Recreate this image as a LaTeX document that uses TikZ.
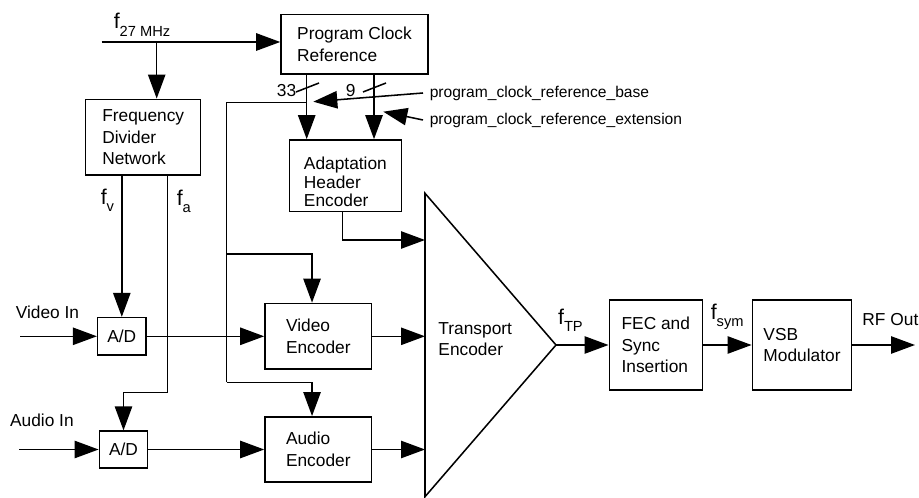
\documentclass[tikz,border=0pt]{standalone}
\usepackage{fontspec}
\setmainfont{Liberation Sans}
\usetikzlibrary{arrows.meta}
\newcommand\mainfnt{\fontsize{13}{16.3}\selectfont}
\newcommand\adfnt{\fontsize{13}{13.6}\selectfont}
\newcommand\smallfnt{\fontsize{11.7}{14}\selectfont}
\newcommand\flabfnt{\fontsize{16}{18}\selectfont}
\newcommand\subfnt{\fontsize{11}{13}\selectfont}
\begin{document}
\begin{tikzpicture}[x=0.75pt,y=-0.75pt,line width=1.15pt,
  box/.style={draw,line width=1.15pt,inner sep=0pt,align=left,font=\mainfnt},
  arr/.style={-{Triangle[length=18pt,width=13pt]}},
  txt/.style={inner sep=0pt,font=\mainfnt,align=left},
  stxt/.style={inner ysep=0pt,inner xsep=4.5pt,font=\smallfnt},
  flab/.style={inner sep=0pt,font=\flabfnt}]
\useasboundingbox (0,0) rectangle (919,498);

% boxes
\node[box,minimum width=110.25pt,minimum height=44.5pt] (PCR) at (354.5,44.3) {Program Clock\\Reference};
\node[box,minimum width=86.25pt,minimum height=56.8pt] (FDN) at (143.2,137.2) {Frequency\\Divider\\Network};
\node[box,minimum width=84.2pt,minimum height=53.8pt] (AHE) at (345.4,175.8) {};
\node[txt,font=\adfnt] (AHEt) at ([yshift=-4.6pt]AHE.center) {Adaptation\\Header\\Encoder};
\node[box,minimum width=80pt,minimum height=49.3pt] (VE) at (318.3,336.3) {Video\\Encoder};
\node[box,minimum width=80pt,minimum height=49pt] (AE) at (318.3,449.5) {Audio\\Encoder};
\node[box,minimum width=36.2pt,minimum height=28pt] (AD1) at (121.8,336.3) {A/D};
\node[box,minimum width=36.2pt,minimum height=27.5pt] (AD2) at (123.5,449.5) {A/D};
\node[box,minimum width=69.75pt,minimum height=67.5pt] (FEC) at (655.8,345) {FEC and\\Sync\\Insertion};
\node[box,minimum width=74.5pt,minimum height=67.5pt] (VSB) at (802,345) {VSB\\Modulator};

% transport encoder triangle
\coordinate (TEtop) at (425,193.3);
\coordinate (TEbot) at (425,496.7);
\coordinate (TEapex) at (556,345);
\draw[line join=miter] (TEtop) -- (TEapex) -- (TEbot) -- cycle;
\node[txt,anchor=west] (TEt) at (437.7,339) {Transport\\Encoder};

% clock input
\coordinate (f27s) at (101.7,42);
\coordinate (f27b) at (156.7,42);
\draw[arr] (f27s) -- (f27s -| PCR.west);
\draw[arr] (f27b) -- (f27b |- FDN.north);
\node[flab,anchor=base west] (f27l) at (113,28.3) {f\raisebox{-5.8pt}{\subfnt 27 MHz}};

% PCR outputs
\coordinate (b33) at ([xshift=-35.85pt]PCR.south);
\coordinate (b9) at ([xshift=14.625pt]PCR.south);
\draw[arr] (b33) -- (b33 |- AHE.north);
\draw[arr] (b9) -- (b9 |- AHE.north);
\draw (296,92) -- (319,83);
\draw (363,92) -- (386,83);
\node[txt,anchor=east] (n33) at (297,90.7) {33};
\node[txt,anchor=west] (n9) at (345,90.7) {9};

% PCR distribution line
\coordinate (j) at (306.7,102.7);
\coordinate (ltop) at (226.7,102.7);
\coordinate (lmid) at (226.7,254);
\coordinate (lbot) at (226.7,382.3);
\draw (j) -- (ltop) -- (lbot);
\draw[arr] (lmid) -| ([xshift=-4.7pt]VE.north);
\draw[arr] (lbot) -| ([xshift=-4.7pt]AE.north);

% field name pointers
\node[stxt,anchor=west] (pcrb) at (423,93) {program\_clock\_reference\_base};
\node[stxt,anchor=west] (pcre) at (423,120) {program\_clock\_reference\_extension};
\coordinate (pb) at (313.3,101.7);
\coordinate (pe) at (383.3,111.7);
\draw[arr] (pcrb.west) -- (pb);
\draw[arr] (pcre.west) -- (pe);

% divider outputs
\draw[arr] (AD1.north |- FDN.south) -- (AD1.north);
\coordinate (fab) at (167.7,392.3);
\draw[arr] (FDN.south -| fab) -- (fab) -| (AD2.north);
\node[flab,anchor=base west] (fvl) at (100,205) {f\raisebox{-5pt}{\subfnt v}};
\node[flab,anchor=base west] (fal) at (176,206) {f\raisebox{-5pt}{\subfnt a}};

% inputs
\coordinate (vin) at (20,336.3);
\coordinate (ain) at (19.3,449.5);
\draw[arr] (vin) -- (AD1.west);
\draw[arr] (ain) -- (AD2.west);
\node[txt,anchor=west] (vinl) at (15,312.3) {Video In};
\node[txt,anchor=west] (ainl) at (9.3,420) {Audio In};

% into encoders and transport
\draw[arr] (AD1.east) -- (VE.west);
\draw[arr] (AD2.east) -- (AE.west);
\draw[arr] (VE.east) -- (VE.east -| TEtop);
\draw[arr] (AE.east) -- (AE.east -| TEtop);
\coordinate (ahy) at (0,240);
\draw[arr] ([xshift=-2.3pt]AHE.south) |- (TEtop |- ahy);

% output chain
\draw[arr] (TEapex) -- (FEC.west);
\draw[arr] (FEC.east) -- (VSB.west);
\coordinate (rfo) at (915,345);
\draw[arr] (VSB.east) -- (rfo);
\node[flab,anchor=base west] (ftpl) at (557.3,325) {f\raisebox{-5pt}{\subfnt TP}};
\node[flab,anchor=base west] (fsyml) at (710,319.3) {f\raisebox{-5.5pt}{\subfnt sym}};
\node[txt,anchor=west] (rfl) at (861.7,319.3) {RF Out};
\end{tikzpicture}
\end{document}
